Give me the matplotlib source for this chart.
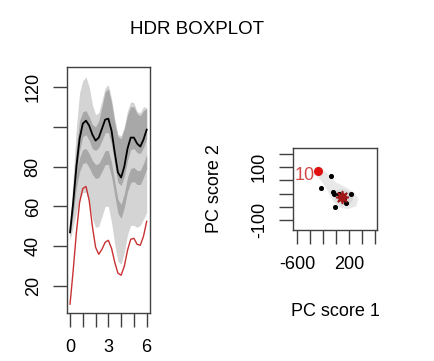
import matplotlib
matplotlib.use("Agg")
import matplotlib.pyplot as plt
import numpy as np

plt.rcParams['font.family'] = ['Liberation Sans', 'DejaVu Sans']

# ---- left panel: functional HDR boxplot ----
t = [0, 0.25, 0.5, 0.75, 1.0, 1.25, 1.5, 1.75, 2.0, 2.25, 2.5, 2.75, 3.0,
     3.25, 3.5, 3.75, 4.0, 4.25, 4.5, 4.75, 5.0, 5.25, 5.5, 5.75, 6.0]
modal_curve = [47, 62, 80, 94, 101.5, 103, 100.5, 96, 93, 94.5, 99, 103.5, 104,
               98, 87, 77, 74.5, 80, 89, 94.5, 94.5, 91.5, 90, 93.5, 98.5]
outlier_curve = [11, 28, 47, 62, 69, 70, 63, 50, 39.5, 36, 38.5, 42, 43,
                 39, 32, 26.5, 25.5, 30, 38, 43.5, 44, 41, 40.5, 45, 52.5]
outer_hi = [52, 75, 100, 117, 123, 125, 120, 111, 106, 107, 113, 119.5, 121,
            114, 104, 96, 95.5, 100, 108, 112.5, 112, 107.5, 107, 110, 109.5]
outer_lo = [43, 50, 57, 63, 67, 67, 62, 54, 49.5, 50, 55, 60, 60,
            52, 41, 32.5, 31, 37, 46, 50.5, 50.5, 49.5, 50.5, 53.5, 57]
inner1_hi = [50, 70, 90, 103, 107.5, 108, 105, 101, 100, 103, 110, 117.5, 119,
             112, 102, 95, 94, 99, 106, 110, 110, 106.5, 105.5, 108, 109]
inner1_lo = [45, 58, 74, 88, 95, 96, 93, 89, 88, 89.5, 93, 97, 97,
             91, 81, 72, 70.5, 75, 83, 88.5, 89, 87, 86.5, 89.5, 94]
inner2_hi = [49, 63, 76.5, 84.5, 88.5, 89, 86.5, 83, 81, 81.5, 84.5, 88, 88,
             82, 72.5, 63.5, 61, 66.5, 74.5, 79, 79.5, 78, 78, 81.5, 86]
inner2_lo = [45, 57, 69.5, 77.5, 81.5, 82, 79.5, 76, 74, 74.5, 77.5, 81, 81,
             75, 65.5, 56.5, 54, 59.5, 67.5, 72, 72.5, 71, 71, 74.5, 79]
left_xticks = [0, 1, 2, 3, 4, 5, 6]
left_xlabels = ['0', '', '', '3', '', '', '6']
left_yticks = [20, 40, 60, 80, 100, 120]
left_ylabels = ['20', '40', '60', '80', '', '120']

# ---- right panel: bivariate HDR of PC scores ----
pc1 = [-84, -225, -49, -23, 230, 155, -8, 53, 129]
pc2 = [65, 23, 6, 0, 0, -36, -49, -1, -19]
outlier_pc1 = [-276]
outlier_pc2 = [86]
outlier_label = ['10']
mode_pc1 = [94]
mode_pc2 = [-11]
outer_region_x = [-327, -251, -149, 3, 155, 281, 346, 307, 179, 53, -49, -125, -225, -327]
outer_region_y = [99, 105, 80, 42, 23, 4, -21, -49, -59, -53, -28, 10, 48, 74]
inner_region_x = [-23, 103, 231, 266, 205, 79, -23]
inner_region_y = [10, 17, 4, -21, -44, -44, -21]
right_xticks = [-600, -400, -200, 0, 200, 400, 600]
right_xlabels = ['-600', '', '', '', '200', '', '']
right_yticks = [-100, -50, 0, 50, 100, 150]
right_ylabels = ['-100', '', '', '', '100', '']

LIGHT = '#d4d4d4'
DARK = '#a8a8a8'
FS = 13

fig = plt.figure(figsize=(4.35, 3.61), dpi=100)

ax1 = fig.add_axes([66.7/435, 1-312.5/361, 83.3/435, 245.5/361])
ax1.fill_between(t, outer_lo, outer_hi, color=LIGHT, lw=0)
ax1.fill_between(t, inner1_lo, inner1_hi, color=DARK, lw=0)
ax1.fill_between(t, inner2_lo, inner2_hi, color=DARK, lw=0)
ax1.plot(t, outlier_curve, color='#c83232', lw=1.0)
ax1.plot(t, modal_curve, color='black', lw=1.3)
ax1.set_xlim(-0.26, 6.26)
ax1.set_ylim(6.8, 129.9)
ax1.set_xticks(left_xticks)
ax1.set_xticklabels(left_xlabels)
ax1.set_yticks(left_yticks)
ax1.set_yticklabels(left_ylabels, rotation=90, va='center')

ax2 = fig.add_axes([293/435, 1-230/361, 84/435, 82/361])
ax2.fill(outer_region_x, outer_region_y, color='#e8e8e8', lw=0)
ax2.fill(inner_region_x, inner_region_y, color='#d6d6d6', lw=0)
ax2.scatter(pc1, pc2, s=7, color='black', zorder=3)
ax2.scatter(outlier_pc1, outlier_pc2, s=30, color='#e01010', zorder=3)
for x, y, lab in zip(outlier_pc1, outlier_pc2, outlier_label):
    ax2.annotate(lab, (x, y), xytext=(-2, -3), textcoords='offset points',
                 ha='right', va='center', color='#d04848', fontsize=FS)
ax2.scatter(mode_pc1, mode_pc2, s=70, marker=(8, 2, 0), color='#a01818',
            lw=1.2, zorder=4)
ax2.scatter(mode_pc1, mode_pc2, s=30, color='#a01818', zorder=4)
ax2.set_xlim(-660, 630)
ax2.set_ylim(-138, 173)
ax2.set_xticks(right_xticks)
ax2.set_xticklabels(right_xlabels)
ax2.set_yticks(right_yticks)
ax2.set_yticklabels(right_ylabels, rotation=90, va='center')

for ax in (ax1, ax2):
    for s in ax.spines.values():
        s.set_color('#404040')
        s.set_linewidth(1.0)
    ax.tick_params(axis='both', length=10, width=1.0, color='#404040',
                   labelsize=FS)
    ax.tick_params(axis='x', pad=9)
    ax.tick_params(axis='y', pad=8)

fig.text(196.7/435, 1-30/361, 'HDR BOXPLOT', ha='center', va='center',
         fontsize=13.5)
fig.text(215/435, 1-189/361, 'PC score 2', rotation=90, ha='center',
         va='center', fontsize=FS)
fig.text(335/435, 1-312/361, 'PC score 1', ha='center', va='center',
         fontsize=FS)

fig.savefig('out.png', dpi=100, facecolor='white')
